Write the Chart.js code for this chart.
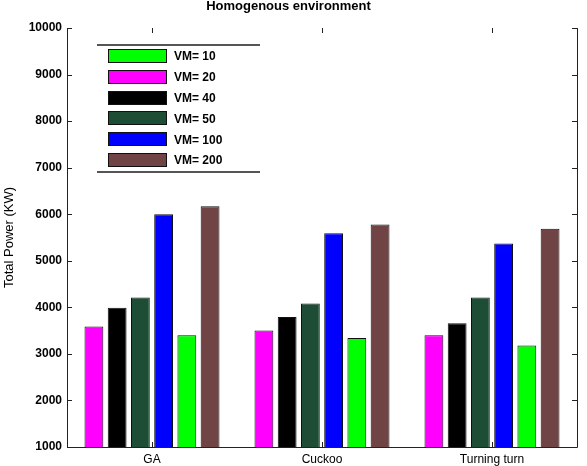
<!DOCTYPE html>
<html>
<head>
<meta charset="utf-8">
<script src="https://cdn.jsdelivr.net/npm/chart.js@4"></script>
<style>
  html, body { margin: 0; padding: 0; background: #fff; }
  #wrap { width: 587px; height: 466px; }
</style>
</head>
<body>
<div id="wrap"><canvas id="myChart" width="587" height="466"></canvas></div>
<script>
const categories = ["GA", "Cuckoo", "Turning turn"];

// Total power (KW) per VM count
const vm10 = [3400, 3340, 3180];
const vm20 = [3590, 3500, 3400];
const vm40 = [3990, 3790, 3660];
const vm50 = [4210, 4080, 4210];
const vm100 = [6000, 5590, 5370];
const vm200 = [6170, 5780, 5690];

const yTicks = [1000, 2000, 3000, 4000, 5000, 6000, 7000, 8000, 9000, 10000];

const FONT = "'Liberation Sans', Arial, sans-serif";

// bars are drawn in this order, the legend lists them by VM count
const series = [
  { label: "VM= 20", data: vm20, color: "#ff00ff", rank: 1 },
  { label: "VM= 40", data: vm40, color: "#000000", rank: 2 },
  { label: "VM= 50", data: vm50, color: "#1d4d35", rank: 3 },
  { label: "VM= 100", data: vm100, color: "#0000ff", rank: 4 },
  { label: "VM= 10", data: vm10, color: "#00ff00", rank: 0 },
  { label: "VM= 200", data: vm200, color: "#704444", rank: 5 },
];

// axes box with inward ticks + legend inside the plot
const framePlugin = {
  id: "frame",
  afterDraw(chart) {
    const { ctx, chartArea: a, scales } = chart;
    ctx.save();
    ctx.strokeStyle = "#222";
    ctx.lineWidth = 1;
    ctx.beginPath();
    ctx.moveTo(a.left + 0.5, a.top);
    ctx.lineTo(a.left + 0.5, a.bottom + 0.5);
    ctx.lineTo(a.right + 0.5, a.bottom + 0.5);
    ctx.lineTo(a.right + 0.5, a.top);
    ctx.stroke();

    ctx.beginPath();
    scales.y.ticks.forEach((t) => {
      const py = Math.round(scales.y.getPixelForValue(t.value)) + 0.5;
      ctx.moveTo(a.left, py);
      ctx.lineTo(a.left + 5, py);
      ctx.moveTo(a.right - 5, py);
      ctx.lineTo(a.right, py);
    });
    categories.forEach((c, i) => {
      const px = Math.round(scales.x.getPixelForValue(i)) + 0.5;
      ctx.moveTo(px, a.bottom);
      ctx.lineTo(px, a.bottom - 5);
      ctx.moveTo(px, a.top);
      ctx.lineTo(px, a.top + 5);
    });
    ctx.stroke();

    // legend
    const items = chart.data.datasets
      .map((d, i) => ({ d, i }))
      .sort((p, q) => series[p.i].rank - series[q.i].rank);
    const bx = 97, by = 45, bw = 163, bh = 127;
    ctx.strokeStyle = "#555";
    ctx.lineWidth = 2;
    ctx.beginPath();
    ctx.moveTo(bx, by);
    ctx.lineTo(bx + bw, by);
    ctx.moveTo(bx, by + bh);
    ctx.lineTo(bx + bw, by + bh);
    ctx.stroke();
    ctx.font = "bold 12px " + FONT;
    ctx.textBaseline = "middle";
    ctx.textAlign = "left";
    ctx.lineWidth = 1;
    items.forEach((it, k) => {
      const cy = by + 11 + k * 20.8;
      ctx.fillStyle = it.d.backgroundColor;
      ctx.fillRect(108, Math.round(cy - 7), 59, 14);
      ctx.strokeStyle = "#111";
      ctx.strokeRect(108.5, Math.round(cy - 7) + 0.5, 58, 13);
      ctx.fillStyle = "#000";
      ctx.fillText(it.d.label, 174, cy + 1);
    });
    ctx.restore();
  },
};

const ctx = document.getElementById("myChart");

new Chart(ctx, {
  type: "bar",
  data: {
    labels: categories,
    datasets: series.map((s) => ({
      label: s.label,
      data: s.data,
      backgroundColor: s.color,
      borderColor: "#111",
      borderWidth: 1,
      borderSkipped: false,
      categoryPercentage: 0.82,
      barPercentage: 0.81,
    })),
  },
  options: {
    responsive: false,
    animation: false,
    devicePixelRatio: 1,
    layout: { padding: { top: 0, right: 10, left: 0, bottom: 0 } },
    plugins: {
      legend: { display: false },
      tooltip: { enabled: false },
      title: {
        display: true,
        text: "Homogenous environment",
        color: "#000",
        font: { family: FONT, size: 13, weight: "bold", lineHeight: 1 },
        padding: { top: 0, bottom: 15 },
      },
    },
    scales: {
      x: {
        grid: { display: false, drawTicks: false },
        border: { display: false },
        ticks: {
          color: "#000",
          padding: 5,
          font: { family: FONT, size: 12 },
        },
        afterFit(scale) {
          scale.height = 19;
        },
      },
      y: {
        min: 1000,
        max: 10000,
        grid: { display: false, drawTicks: false },
        border: { display: false },
        afterBuildTicks(scale) {
          scale.ticks = yTicks.map((v) => ({ value: v }));
        },
        ticks: {
          color: "#000",
          padding: 5,
          font: { family: FONT, size: 12, weight: "bold" },
          callback: (v) => String(v),
        },
        title: {
          display: true,
          text: "Total Power (KW)",
          color: "#000",
          padding: { top: 2, bottom: 0 },
          font: { family: FONT, size: 13 },
        },
        afterFit(scale) {
          scale.width = 67;
        },
      },
    },
  },
  plugins: [framePlugin],
});
</script>
</body>
</html>
